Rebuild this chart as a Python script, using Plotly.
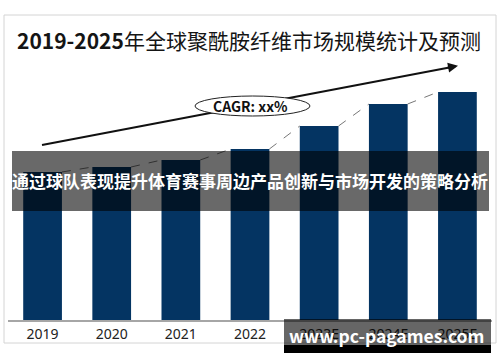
import plotly.graph_objects as go

categories = ["2019", "2020", "2021", "2022", "2023E", "2024E", "2025E"]
values = [148, 153, 160, 171, 194, 216, 228]
title_text = "<b>2019-2025</b>年全球聚酰胺纤维市场规模统计及预测"
cagr_text = "<b>CAGR: xx%</b>"
band_text = "<b>通过球队表现提升体育赛事周边产品创新与市场开发的策略分析</b>"
watermark_text = "<b>www.pc-pagames.com</b>"

W, H = 500, 362
ML, MR, MT, MB = 8, 8, 60, 42
PW = W - ML - MR
PH = H - MT - MB
BAR_W = 0.56


def px(x):
    return (x - ML) / PW


def py(y):
    return (H - MB - y) / PH


FONT = "Noto Sans CJK SC, Noto Sans, sans-serif"

fig = go.Figure()
fig.add_bar(x=list(range(len(categories))), y=values, width=BAR_W,
            marker=dict(color="#043462", line=dict(width=0)), hoverinfo="skip")

xs, ys = [], []
for i in range(len(values) - 1):
    xs += [i + BAR_W / 2, i + 1 - BAR_W / 2, None]
    ys += [values[i], values[i + 1], None]
fig.add_scatter(x=xs, y=ys, mode="lines",
                line=dict(color="#777777", width=1, dash="dash"), hoverinfo="skip")

shapes = [
    dict(type="rect", xref="paper", yref="paper", x0=px(4), x1=px(496), y0=py(15), y1=py(343),
         line=dict(color="#d4d4d4", width=1), fillcolor="rgba(0,0,0,0)", layer="below"),
    dict(type="line", xref="paper", yref="paper", x0=px(42), y0=py(145), x1=px(452), y1=py(67),
         line=dict(color="#111111", width=2), layer="above"),
    dict(type="circle", xref="paper", yref="paper", x0=px(195), x1=px(310), y0=py(96), y1=py(116),
         line=dict(color="#222222", width=1), fillcolor="white", layer="above"),
    dict(type="rect", xref="paper", yref="paper", x0=px(12), x1=px(489), y0=py(151), y1=py(211),
         line=dict(width=0), fillcolor="rgba(0,0,0,0.59)", layer="above"),
    dict(type="rect", xref="paper", yref="paper", x0=px(284), x1=px(491), y0=py(319), y1=py(345),
         line=dict(width=0), fillcolor="rgba(0,0,0,0.6)", layer="above"),
    dict(type="rect", xref="paper", yref="paper", x0=px(284), x1=px(491), y0=py(345), y1=py(353),
         line=dict(width=0), fillcolor="black", layer="above"),
]

annotations = [
    dict(text=title_text, xref="paper", yref="paper", x=px(249), y=py(40), showarrow=False,
         font=dict(family=FONT, size=21, color="#151515"), xanchor="center", yanchor="middle"),
    dict(text=cagr_text, xref="paper", yref="paper", x=px(250), y=py(105.5), showarrow=False,
         font=dict(family=FONT, size=14, color="#111111"), xanchor="center", yanchor="middle"),
    dict(text="", xref="paper", yref="paper", x=px(458), y=py(65.8), ax=-12, ay=2.3,
         showarrow=True, arrowhead=2, arrowsize=1, arrowwidth=2, arrowcolor="#111111"),
    dict(text=band_text, xref="paper", yref="paper", x=px(250), y=py(180), showarrow=False,
         font=dict(family=FONT, size=17, color="white"), xanchor="center", yanchor="middle"),
    dict(text=watermark_text, xref="paper", yref="paper", x=px(386), y=py(335), showarrow=False,
         font=dict(family=FONT, size=17.5, color="white"), xanchor="center", yanchor="middle"),
]

fig.update_layout(
    width=W, height=H,
    margin=dict(l=ML, r=MR, t=MT, b=MB, pad=0),
    paper_bgcolor="white", plot_bgcolor="white",
    showlegend=False, bargap=0.44,
    shapes=shapes, annotations=annotations,
    xaxis=dict(range=[-0.5, len(categories) - 0.5], tickmode="array",
               tickvals=list(range(len(categories))), ticktext=categories,
               showline=True, linecolor="#a6a6a6", linewidth=1.5, ticks="",
               showgrid=False, zeroline=False, fixedrange=True,
               tickfont=dict(family="Noto Sans, sans-serif", size=14, color="#222222")),
    yaxis=dict(range=[0, PH], visible=False, fixedrange=True),
)

fig.write_html("out.html", config={"displayModeBar": False},
               post_script="document.body.style.margin='0';document.body.style.overflow='hidden';")
